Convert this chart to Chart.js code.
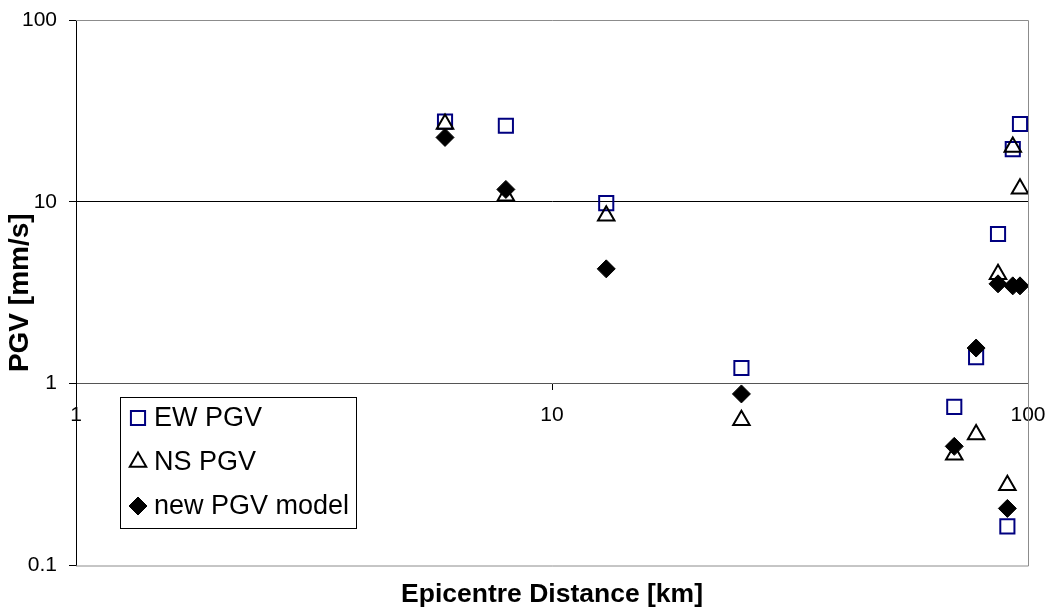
<!DOCTYPE html>
<html>
<head>
<meta charset="utf-8">
<script src="https://cdn.jsdelivr.net/npm/chart.js@4/dist/chart.umd.min.js"></script>
<style>
  html, body { margin: 0; padding: 0; background: #fff; }
</style>
</head>
<body>
<canvas id="chart" width="1050" height="608"></canvas>
<script>
// values
const distance = [5.96, 8.0, 13.0, 25.0, 70.0, 77.8, 86.5, 90.5, 92.9, 96.2];
const ewPgv = [27.6, 26.2, 9.84, 1.22, 0.745, 1.40, 6.65, 0.164, 19.5, 26.8];
const nsPgv = [26.8, 10.8, 8.38, 0.629, 0.407, 0.525, 4.0, 0.276, 20.0, 11.8];
const modelPgv = [22.6, 11.7, 4.28, 0.878, 0.452, 1.57, 3.54, 0.206, 3.45, 3.45];

const xTicks = [1, 10, 100];
const yTicks = [0.1, 1, 10, 100];

const family = 'Arial, "Liberation Sans", sans-serif';

const toPoints = vals => vals.map((v, i) => ({ x: distance[i], y: v }));

// labels may hang over the plot edges, the layout padding covers them
const noOverflow = s => {
    s.paddingLeft = 0;
    s.paddingRight = 0;
    s.paddingTop = 0;
    s.paddingBottom = 0;
};

// grey frame round the plot area
const frame = {
    id: 'frame',
    beforeDatasetsDraw(chart) {
        const { ctx, chartArea: a } = chart;
        ctx.save();
        ctx.strokeStyle = '#8c8c8c';
        ctx.lineWidth = 1;
        ctx.beginPath();
        ctx.moveTo(a.left, a.top + 0.5);
        ctx.lineTo(a.right + 0.5, a.top + 0.5);
        ctx.lineTo(a.right + 0.5, a.bottom + 0.5);
        ctx.lineTo(a.left, a.bottom + 0.5);
        ctx.stroke();
        ctx.restore();
    }
};

// boxed legend inside the plot, below the y = 1 line
const boxLegend = {
    id: 'boxLegend',
    afterDraw(chart) {
        const { ctx, chartArea: a, scales } = chart;
        const left = a.left + 44;
        const top = Math.round(scales.y.getPixelForValue(1)) + 13;
        const w = 236, h = 131, rowH = 44;
        ctx.save();
        ctx.fillStyle = '#fff';
        ctx.fillRect(left, top, w, h);
        ctx.strokeStyle = '#000';
        ctx.lineWidth = 1;
        ctx.strokeRect(left + 0.5, top + 0.5, w, h);
        chart.data.datasets.forEach((ds, i) => {
            const cy = top + 21 + i * rowH;
            ctx.save();
            ctx.fillStyle = ds.backgroundColor;
            ctx.strokeStyle = ds.borderColor;
            ctx.lineWidth = ds.borderWidth;
            Chart.helpers.drawPoint(ctx, {
                pointStyle: ds.pointStyle,
                radius: ds.pointRadius,
                borderWidth: ds.borderWidth,
                rotation: 0
            }, left + 18, cy);
            ctx.restore();
            ctx.fillStyle = '#000';
            ctx.font = '27px ' + family;
            ctx.textBaseline = 'middle';
            ctx.fillText(ds.label, left + 34, cy + 1);
        });
        ctx.restore();
    }
};

const ctx = document.getElementById('chart').getContext('2d');
const myChart = new Chart(ctx, {
    type: 'scatter',
    data: {
        datasets: [
            {
                label: 'EW PGV',
                data: toPoints(ewPgv),
                pointStyle: 'rect',
                pointRadius: 10,
                borderWidth: 2,
                borderColor: '#000080',
                backgroundColor: 'rgba(0,0,0,0)',
                order: 3
            },
            {
                label: 'NS PGV',
                data: toPoints(nsPgv),
                pointStyle: 'triangle',
                pointRadius: 9.5,
                borderWidth: 2,
                borderColor: '#000',
                backgroundColor: 'rgba(0,0,0,0)',
                order: 2
            },
            {
                label: 'new PGV model',
                data: toPoints(modelPgv),
                pointStyle: 'rectRot',
                pointRadius: 9,
                borderWidth: 1,
                borderColor: '#000',
                backgroundColor: '#000',
                order: 1
            }
        ]
    },
    options: {
        responsive: false,
        animation: false,
        layout: { padding: { left: 0, right: 22, top: 20, bottom: 0 } },
        plugins: {
            legend: { display: false },
            tooltip: { enabled: false }
        },
        scales: {
            x: {
                type: 'logarithmic',
                min: 1,
                max: 100,
                position: { y: 1 },
                afterBuildTicks: s => { s.ticks = xTicks.map(v => ({ value: v })); },
                afterFit: noOverflow,
                ticks: {
                    color: '#000',
                    font: { family: family, size: 21 },
                    padding: 13,
                    maxRotation: 0,
                    autoSkip: false,
                    callback: v => String(v)
                },
                grid: { drawOnChartArea: false, tickColor: '#000', tickLength: 6 },
                border: { color: '#555', width: 1 }
            },
            xt: {
                type: 'logarithmic',
                axis: 'x',
                min: 1,
                max: 100,
                position: 'bottom',
                afterFit: noOverflow,
                ticks: { display: false },
                grid: { display: false, drawTicks: false },
                border: { display: false },
                title: {
                    display: true,
                    text: 'Epicentre Distance [km]',
                    color: '#000',
                    font: { family: family, size: 26.5, weight: 'bold', lineHeight: 1 },
                    padding: { top: 16, bottom: 0 }
                }
            },
            y: {
                type: 'logarithmic',
                min: 0.1,
                max: 100,
                afterBuildTicks: s => { s.ticks = yTicks.map(v => ({ value: v })); },
                afterFit: s => { s.width = 76; noOverflow(s); },
                ticks: {
                    color: '#000',
                    font: { family: family, size: 21 },
                    padding: 12,
                    callback: v => String(v)
                },
                grid: {
                    color: c => (c.tick && c.tick.value === 10 ? '#000' : 'rgba(0,0,0,0)'),
                    tickColor: '#000',
                    tickLength: 7
                },
                border: { color: '#000', width: 1 },
                title: {
                    display: true,
                    text: 'PGV [mm/s]',
                    color: '#000',
                    font: { family: family, size: 28, weight: 'bold' },
                    padding: { top: 3, bottom: 0 }
                }
            }
        }
    },
    plugins: [frame, boxLegend]
});
</script>
</body>
</html>
